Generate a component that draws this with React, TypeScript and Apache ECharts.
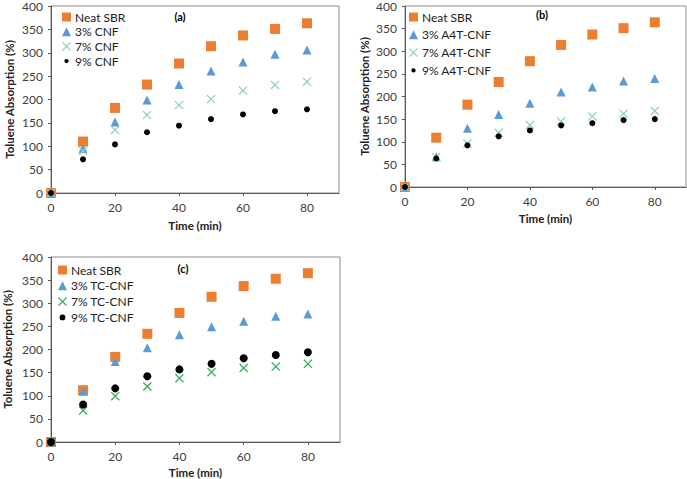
import React, { useEffect, useRef } from "react";
import * as echarts from "echarts";

const time = [0, 10, 20, 30, 40, 50, 60, 70, 80];

const namesA = ["Neat SBR", "3% CNF", "7% CNF", "9% CNF"];
const neatA = [0, 110, 182, 232, 277, 314, 337, 351, 363];
const cnf3A = [0, 95, 152, 199, 232, 261, 280, 297, 306];
const cnf7A = [0, 90, 135, 167, 188, 201, 219, 231, 238];
const cnf9A = [0, 72, 104, 130, 144, 158, 168, 175, 179];

const namesB = ["Neat SBR", "3% A4T-CNF", "7% A4T-CNF", "9% A4T-CNF"];
const neatB = [0, 109, 182, 232, 278, 314, 337, 351, 364];
const cnf3B = [0, 67, 130, 160, 185, 210, 221, 234, 240];
const cnf7B = [0, 66, 96, 120, 137, 145, 156, 162, 168];
const cnf9B = [0, 63, 92, 112, 125, 136, 141, 148, 150];

const namesC = ["Neat SBR", "3% TC-CNF", "7% TC-CNF", "9% TC-CNF"];
const neatC = [0, 112, 184, 234, 279, 314, 337, 353, 365];
const cnf3C = [0, 110, 174, 204, 232, 249, 261, 272, 277];
const cnf7C = [0, 68, 99, 120, 138, 151, 160, 163, 169];
const cnf9C = [0, 81, 116, 142, 157, 169, 181, 188, 194];

const yTicks = { min: 0, max: 400, interval: 50 };
const xTicks = { min: 0, max: 90, interval: 20 };

const ORANGE = "#ED7D31";
const BLUE = "#5B9BD5";
const PALE = "#8FD3BE";
const GREEN = "#2DB35E";
const BLACK = "#000000";

const XPATH =
  "path://M0,1L1,0L5,4L9,0L10,1L6,5L10,9L9,10L5,6L1,10L0,9L4,5Z";
// small circle inside a 10x10 box (move-to points set the bounding box)
const SMALLDOT =
  "path://M0,0M10,10M2.6,5A2.4,2.4,0,1,1,7.4,5A2.4,2.4,0,1,1,2.6,5Z";
const BIGDOT =
  "path://M0,0M10,10M1.8,5A3.2,3.2,0,1,1,8.2,5A3.2,3.2,0,1,1,1.8,5Z";

const FONT = "Lato, 'Open Sans', sans-serif";

export default function App() {
  const ref = useRef<HTMLDivElement>(null);
  useEffect(() => {
    if (!ref.current) return;
    const chart = echarts.init(ref.current, undefined, { renderer: "svg" });

    const grids = [
      { left: 51, top: 4, width: 288, height: 189 },
      { left: 405, top: 4, width: 281, height: 183 },
      { left: 50, top: 257, width: 290, height: 186 },
    ];
    const yGaps = [36, 35, 38];
    const xGaps = [26, 25, 24];

    const axisLine = { lineStyle: { color: "#595959", width: 1 } };
    const tick = { show: true, length: 3, lineStyle: { color: "#595959" } };
    const labelStyle = { color: "#404040", fontSize: 12, fontFamily: FONT };
    const nameStyle = {
      color: "#222",
      fontSize: 11.5,
      fontWeight: "bold" as const,
      fontFamily: FONT,
    };

    const xAxis = grids.map((_, i) => ({
      type: "value" as const,
      gridIndex: i,
      ...xTicks,
      name: "Time (min)",
      nameLocation: "middle" as const,
      nameGap: xGaps[i],
      nameTextStyle: { ...nameStyle, verticalAlign: "top" as const },
      axisLine,
      axisTick: tick,
      axisLabel: { ...labelStyle, margin: 8, showMaxLabel: false },
      splitLine: { show: false },
    }));
    const yAxis = grids.map((_, i) => ({
      type: "value" as const,
      gridIndex: i,
      ...yTicks,
      name: "Toluene Absorption (%)",
      nameLocation: "middle" as const,
      nameGap: yGaps[i],
      nameTextStyle: nameStyle,
      axisLine: { show: true, ...axisLine },
      axisTick: tick,
      axisLabel: { ...labelStyle, margin: 8 },
      splitLine: { show: false },
    }));

    const panels = [
      { names: namesA, data: [neatA, cnf3A, cnf7A, cnf9A], pale: PALE, dot: 6, ldot: SMALLDOT },
      { names: namesB, data: [neatB, cnf3B, cnf7B, cnf9B], pale: PALE, dot: 6, ldot: SMALLDOT },
      { names: namesC, data: [neatC, cnf3C, cnf7C, cnf9C], pale: GREEN, dot: 8, ldot: BIGDOT },
    ];

    const series: any[] = [];
    panels.forEach((p, i) => {
      const styles = [
        { symbol: "rect", size: 10, color: ORANGE },
        { symbol: "triangle", size: 9, color: BLUE },
        { symbol: XPATH, size: 9, color: p.pale },
        { symbol: "circle", size: p.dot, color: BLACK },
      ];
      p.data.forEach((vals, k) => {
        series.push({
          type: "scatter",
          name: p.names[k],
          xAxisIndex: i,
          yAxisIndex: i,
          symbol: styles[k].symbol,
          symbolSize: styles[k].size,
          itemStyle: { color: styles[k].color, opacity: 1 },
          data: time.map((t, j) => [t, vals[j]]),
          z: 10 + k,
        });
      });
    });

    const legendPos = [
      { left: 62, top: 11, gap: 2.7 },
      { left: 409, top: 11, gap: 5.8 },
      { left: 58, top: 264, gap: 3.8 },
    ];
    const legend = panels.map((p, i) => ({
      orient: "vertical" as const,
      left: legendPos[i].left,
      top: legendPos[i].top,
      itemGap: legendPos[i].gap,
      itemWidth: 9,
      itemHeight: 9,
      padding: 0,
      selectedMode: false,
      textStyle: { color: "#222", fontSize: 12, fontFamily: FONT, padding: [0, 0, 0, -1] },
      data: p.names.map((n, k) => (k === 3 ? { name: n, icon: p.ldot } : { name: n })),
    }));

    const labels = ["(a)", "(b)", "(c)"];
    const labelPos = [
      [180, 16],
      [542, 14],
      [183, 268],
    ];

    chart.setOption({
      animation: false,
      backgroundColor: "#fff",
      grid: grids.map((g) => ({
        ...g,
        show: true,
        borderColor: "#8c8c8c",
        borderWidth: 1,
        backgroundColor: "transparent",
      })),
      xAxis,
      yAxis,
      legend,
      series,
      graphic: labels.map((t, i) => ({
        type: "text",
        x: labelPos[i][0],
        y: labelPos[i][1],
        style: {
          text: t,
          fill: "#000",
          font: `bold 11px ${FONT}`,
          textAlign: "center",
          textVerticalAlign: "middle",
        },
      })),
    });
    return () => chart.dispose();
  }, []);
  return (
    <div
      ref={ref}
      style={{ position: "fixed", left: 0, top: 0, width: 687, height: 479 }}
    />
  );
}
